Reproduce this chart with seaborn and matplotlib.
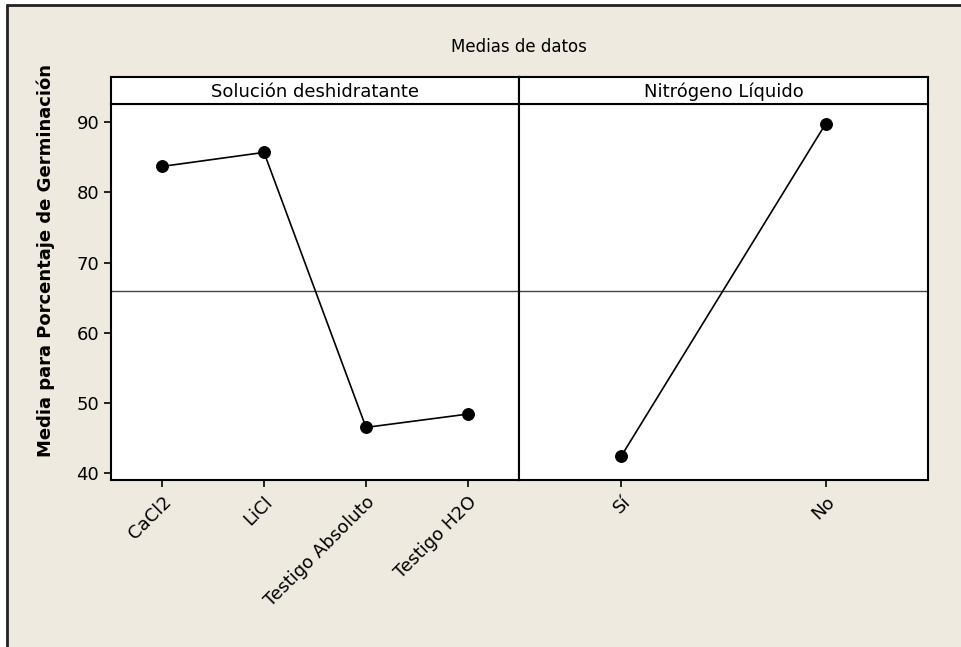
import numpy as np
import pandas as pd
import seaborn as sns
import matplotlib.pyplot as plt
from matplotlib.lines import Line2D
from matplotlib.patches import Rectangle

# data
solucion_levels = ["CaCl2", "LiCl", "Testigo Absoluto", "Testigo H2O"]
solucion_means = [83.7, 85.7, 46.5, 48.4]
nitrogeno_levels = ["Sí", "No"]
nitrogeno_means = [42.4, 89.8]
grand_mean = 66.0
y_ticks = [40, 50, 60, 70, 80, 90]

bg = "#EEEAE0"

sns.set_theme(style="white")
plt.rcParams["font.family"] = ["DejaVu Sans"]
plt.rcParams["text.color"] = "black"
plt.rcParams["axes.labelcolor"] = "black"
plt.rcParams["xtick.color"] = "black"
plt.rcParams["ytick.color"] = "black"

fig = plt.figure(figsize=(9.61, 6.47), dpi=100)
fig.patch.set_facecolor("white")
W, H = 961, 647

# background panel with only top/left frame visible (cropped screenshot)
fig.add_artist(Rectangle((7 / W, 0), 1 - 7 / W, 1 - 5 / H, transform=fig.transFigure,
                         facecolor=bg, edgecolor="none", zorder=-10))
fig.add_artist(Line2D([6.5 / W, 6.5 / W], [0, 1 - 4.5 / H], transform=fig.transFigure,
                      color="#222222", lw=2))
fig.add_artist(Line2D([6.5 / W, 1], [1 - 4.5 / H, 1 - 4.5 / H], transform=fig.transFigure,
                      color="#222222", lw=2))

def box(x0, y0, x1, y1):
    # pixel box -> figure fraction rect
    return [x0 / W, 1 - y1 / H, (x1 - x0) / W, (y1 - y0) / H]

panels = [
    ("Solución deshidratante", solucion_levels, solucion_means, 111, 519),
    ("Nitrógeno Líquido", nitrogeno_levels, nitrogeno_means, 519, 928),
]

ylim = (39.0, 92.6)
for i, (name, levels, means, x0, x1) in enumerate(panels):
    ax = fig.add_axes(box(x0, 104, x1, 480))
    ax.set_facecolor("white")
    df = pd.DataFrame({"nivel": levels, "media": means})
    ax.axhline(grand_mean, color="#444444", lw=1.0, zorder=1)
    sns.lineplot(data=df, x=np.arange(len(levels)), y="media", ax=ax, color="black",
                 lw=1.2, marker="o", markersize=8.5, markeredgecolor="black", zorder=3)
    ax.set_xlim(-0.5, len(levels) - 0.5)
    ax.set_ylim(*ylim)
    ax.set_xticks(range(len(levels)))
    ax.set_xticklabels(levels, rotation=45, ha="right", rotation_mode="anchor", fontsize=13)
    ax.tick_params(axis="x", direction="out", length=5, width=1.2, color="black", pad=4, bottom=True)
    if i == 0:
        ax.set_yticks(y_ticks)
        ax.tick_params(axis="y", direction="out", length=5, width=1.2, color="black", labelsize=13, left=True)
        ax.set_ylabel("Media para Porcentaje de Germinación", fontsize=13, fontweight="bold")
        ax.yaxis.set_label_coords(-0.137, 0.585)
    else:
        ax.set_yticks([])
        ax.set_ylabel("")
    ax.set_xlabel("")
    for s in ax.spines.values():
        s.set_color("black")
        s.set_linewidth(1.5)

    # strip header
    sx = fig.add_axes(box(x0, 77, x1, 104))
    sx.set_facecolor("white")
    sx.set_xticks([])
    sx.set_yticks([])
    for s in sx.spines.values():
        s.set_color("black")
        s.set_linewidth(1.5)
    sx.text(0.5, 0.45, name, ha="center", va="center", fontsize=13, transform=sx.transAxes)

fig.text(519 / W, 1 - 47 / H, "Medias de datos", ha="center", va="center", fontsize=12)

fig.savefig("out.png", dpi=100, facecolor=fig.get_facecolor())
